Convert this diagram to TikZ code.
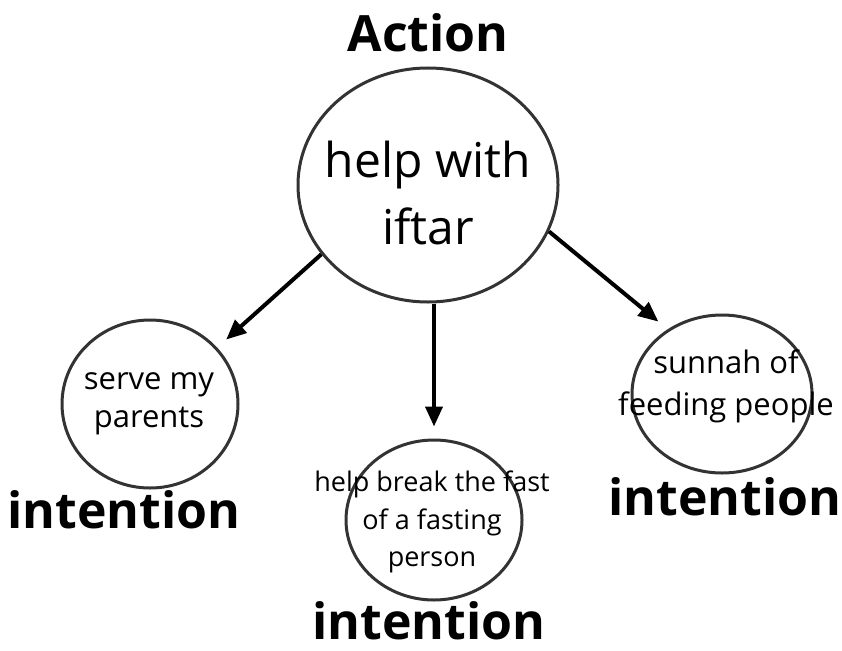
\documentclass[tikz,border=0pt]{standalone}
\usepackage{fontspec}
\setmainfont{Open Sans}
\usetikzlibrary{shapes.geometric, arrows.meta}

\begin{document}
\begin{tikzpicture}[x=1pt, y=-1pt,
    ring/.style={ellipse, draw=black!80, line width=3pt, inner sep=0pt},
    words/.style={align=center, inner sep=0pt},
    title/.style={font=\fontsize{50}{60}\selectfont\bfseries, anchor=base},
    arr/.style={-{Triangle[length=20pt, width=17pt]}, line width=4pt, shorten >=12pt}]
    \useasboundingbox (0,0) rectangle (842,650);

    % circles
    \node[ring, minimum width=260pt, minimum height=234pt] (iftar) at (428,185) {};
    \node[ring, minimum width=176pt, minimum height=168pt] (parents) at (150,404) {};
    \node[ring, minimum width=176pt, minimum height=160pt] (fast) at (434,520) {};
    \node[ring, minimum width=180pt, minimum height=158pt] (sunnah) at (722,394) {};

    % texts in the circles
    \node[words, font=\fontsize{48}{67}\selectfont] (iftar-t) at (428,193) {help with\\iftar};
    \node[words, font=\fontsize{31}{38}\selectfont] (parents-t) at (149,404) {serve my\\parents};
    \node[words, font=\fontsize{27}{37.5}\selectfont] (fast-t) at (432,522) {help break the fast\\of a fasting\\person};
    \node[words, font=\fontsize{31}{42}\selectfont] (sunnah-t) at (726,386) {sunnah of\\feeding people};

    \node[title] (action) at (428,52) {Action};
    \node[title] (int1) at (124,528) {intention};
    \node[title] (int2) at (429,639) {intention};
    \node[title] (int3) at (725,515) {intention};

    \draw[arr] (iftar.213) -- (parents.40);
    \draw[arr] (iftar.south -| fast.north) -- (fast.north);
    \draw[arr] (iftar.-21) -- (sunnah.130);
\end{tikzpicture}
\end{document}
